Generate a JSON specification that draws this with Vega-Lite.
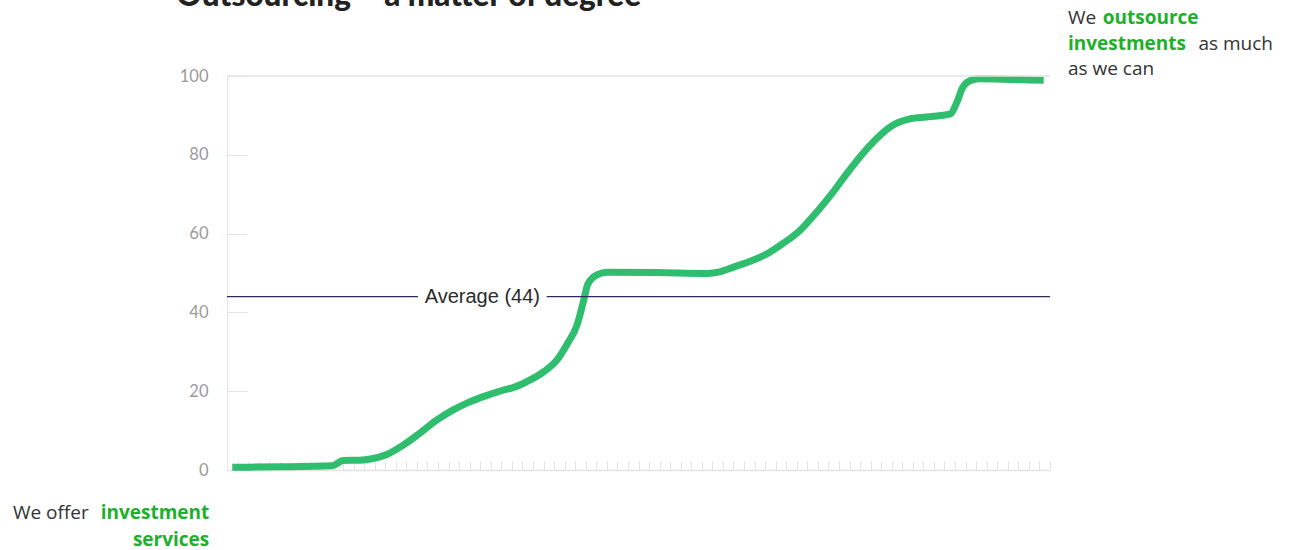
{
  "$schema": "https://vega.github.io/schema/vega-lite/v6.json",
  "width": 823,
  "height": 394,
  "autosize": {"type": "none"},
  "padding": {"left": 227, "top": 76, "right": 240, "bottom": 80},
  "background": "white",
  "config": {
    "view": {"stroke": null},
    "font": "Open Sans",
    "axis": {"grid": false, "domainColor": "#e3e3e3", "tickColor": "#e3e3e3", "title": null}
  },
  "datasets": {
    "curve": [
      {"rank": 0.5, "share": 0.7},
      {"rank": 5.0, "share": 0.8},
      {"rank": 10.0, "share": 1.1},
      {"rank": 11.0, "share": 2.4},
      {"rank": 12.6, "share": 2.5},
      {"rank": 13.6, "share": 2.8},
      {"rank": 15.2, "share": 4.0},
      {"rank": 16.7, "share": 6.3},
      {"rank": 18.3, "share": 9.4},
      {"rank": 19.9, "share": 12.7},
      {"rank": 21.4, "share": 15.2},
      {"rank": 23.0, "share": 17.3},
      {"rank": 24.7, "share": 19.0},
      {"rank": 26.2, "share": 20.3},
      {"rank": 27.1, "share": 20.9},
      {"rank": 28.4, "share": 22.4},
      {"rank": 30.0, "share": 24.9},
      {"rank": 31.3, "share": 28.0},
      {"rank": 32.2, "share": 31.8},
      {"rank": 33.2, "share": 37.0},
      {"rank": 33.8, "share": 43.0},
      {"rank": 34.2, "share": 47.2},
      {"rank": 35.1, "share": 49.6},
      {"rank": 36.0, "share": 50.2},
      {"rank": 40.8, "share": 50.1},
      {"rank": 45.5, "share": 49.9},
      {"rank": 46.7, "share": 50.3},
      {"rank": 48.0, "share": 51.5},
      {"rank": 49.6, "share": 53.0},
      {"rank": 51.2, "share": 54.9},
      {"rank": 52.7, "share": 57.5},
      {"rank": 54.3, "share": 60.8},
      {"rank": 55.9, "share": 65.5},
      {"rank": 57.4, "share": 70.4},
      {"rank": 58.4, "share": 74.0},
      {"rank": 60.0, "share": 79.5},
      {"rank": 61.6, "share": 84.2},
      {"rank": 63.1, "share": 87.5},
      {"rank": 64.7, "share": 89.1},
      {"rank": 66.3, "share": 89.6},
      {"rank": 68.5, "share": 90.3},
      {"rank": 69.2, "share": 93.5},
      {"rank": 69.7, "share": 97.0},
      {"rank": 70.4, "share": 98.8},
      {"rank": 71.3, "share": 99.3},
      {"rank": 74.5, "share": 99.1},
      {"rank": 77.4, "share": 98.9}
    ],
    "average": [{"value": 44}],
    "single": [{}]
  },
  "layer": [
    {
      "data": {"name": "curve"},
      "mark": {"type": "line", "interpolate": "monotone", "strokeWidth": 7, "color": "#2ebe6e", "strokeCap": "butt"},
      "encoding": {
        "x": {
          "field": "rank", "type": "quantitative",
          "scale": {"domain": [0, 78], "nice": false, "zero": false},
          "axis": {"labels": false, "tickCount": 78, "tickSize": -9, "domainWidth": 1.5, "tickWidth": 1}
        },
        "y": {
          "field": "share", "type": "quantitative",
          "scale": {"domain": [0, 100], "nice": false},
          "axis": {"values": [0, 20, 40, 60, 80, 100], "tickSize": -20, "labelPadding": 39, "labelColor": "#9a9a9a", "labelFontSize": 16.5, "labelFont": "Lato"}
        }
      }
    },
    {
      "data": {"name": "single"},
      "mark": {"type": "rule", "color": "#e3e3e3", "strokeWidth": 1.5},
      "encoding": {"x": {"datum": 0}, "x2": {"datum": 78}, "y": {"datum": 100}}
    },
    {
      "data": {"name": "average"},
      "mark": {"type": "rule", "color": "#2e2a5e", "strokeWidth": 1.3},
      "encoding": {"x": {"datum": 0}, "x2": {"datum": 18.1}, "y": {"field": "value", "type": "quantitative"}}
    },
    {
      "data": {"name": "average"},
      "mark": {"type": "rule", "color": "#2e2a5e", "strokeWidth": 1.3},
      "encoding": {"x": {"datum": 30.3}, "x2": {"datum": 78}, "y": {"field": "value", "type": "quantitative"}}
    },
    {
      "data": {"name": "average"},
      "transform": [{"calculate": "'Average (' + datum.value + ')'", "as": "label"}],
      "mark": {"type": "text", "align": "center", "baseline": "middle", "font": "Liberation Sans", "fontSize": 20, "color": "#2b2b2b"},
      "encoding": {"x": {"datum": 24.2}, "y": {"field": "value", "type": "quantitative"}, "text": {"field": "label"}}
    },
    {
      "data": {"name": "single"},
      "mark": {"type": "text", "align": "left", "baseline": "alphabetic", "font": "Lato", "fontSize": 31.5, "fontWeight": 900, "color": "#222222"},
      "encoding": {"x": {"datum": -4.8}, "y": {"datum": 117.7}, "text": {"value": "Outsourcing – a matter of degree"}}
    },
    {
      "data": {"name": "single"},
      "mark": {"type": "text", "align": "left", "baseline": "middle", "fontSize": 19, "color": "#333333"},
      "encoding": {"x": {"datum": 79.7}, "y": {"datum": 114.8}, "text": {"value": "We"}}
    },
    {
      "data": {"name": "single"},
      "mark": {"type": "text", "align": "left", "baseline": "middle", "fontSize": 19, "fontWeight": "bold", "color": "#1db02c"},
      "encoding": {"x": {"datum": 83.0}, "y": {"datum": 114.8}, "text": {"value": "outsource"}}
    },
    {
      "data": {"name": "single"},
      "mark": {"type": "text", "align": "left", "baseline": "middle", "fontSize": 19, "fontWeight": "bold", "color": "#1db02c"},
      "encoding": {"x": {"datum": 79.7}, "y": {"datum": 108.2}, "text": {"value": "investments"}}
    },
    {
      "data": {"name": "single"},
      "mark": {"type": "text", "align": "center", "baseline": "middle", "fontSize": 19, "color": "#333333"},
      "encoding": {"x": {"datum": 95.6}, "y": {"datum": 108.2}, "text": {"value": "as much"}}
    },
    {
      "data": {"name": "single"},
      "mark": {"type": "text", "align": "left", "baseline": "middle", "fontSize": 19, "color": "#333333"},
      "encoding": {"x": {"datum": 79.7}, "y": {"datum": 101.9}, "text": {"value": "as we can"}}
    },
    {
      "data": {"name": "single"},
      "mark": {"type": "text", "align": "center", "baseline": "middle", "fontSize": 19, "color": "#333333"},
      "encoding": {"x": {"datum": -16.7}, "y": {"datum": -10.9}, "text": {"value": "We offer"}}
    },
    {
      "data": {"name": "single"},
      "mark": {"type": "text", "align": "right", "baseline": "middle", "fontSize": 19, "fontWeight": "bold", "color": "#1db02c"},
      "encoding": {"x": {"datum": -1.68}, "y": {"datum": -10.9}, "text": {"value": "investment"}}
    },
    {
      "data": {"name": "single"},
      "mark": {"type": "text", "align": "right", "baseline": "middle", "fontSize": 19, "fontWeight": "bold", "color": "#1db02c"},
      "encoding": {"x": {"datum": -1.68}, "y": {"datum": -17.7}, "text": {"value": "services"}}
    }
  ]
}
